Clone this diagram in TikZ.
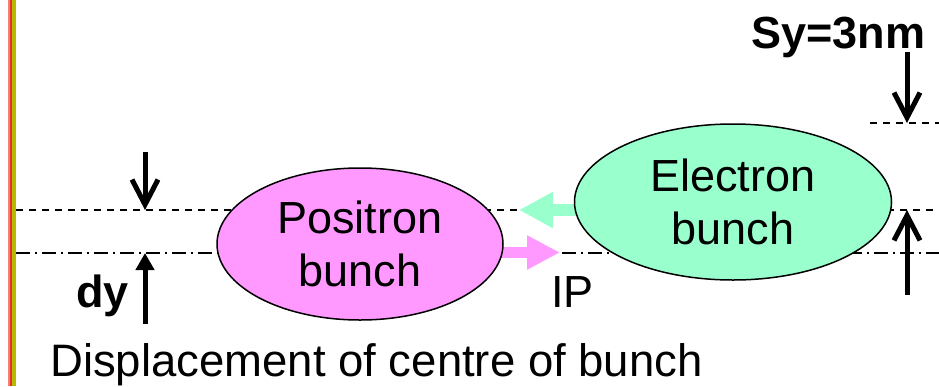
\documentclass[tikz,border=0pt]{standalone}
\usepackage{fontspec}
\setmainfont{Liberation Sans}
\usetikzlibrary{shapes.geometric,arrows.meta}
\definecolor{pinkfill}{HTML}{FF99FF}
\definecolor{greenfill}{HTML}{99FFCC}
\definecolor{barpink}{RGB}{240,128,128}
\definecolor{barred}{RGB}{230,50,30}
\definecolor{barolive}{RGB}{184,184,0}
\tikzset{
  bigfont/.style={font=\fontsize{45}{53}\selectfont},
  boldfont/.style={font=\fontsize{45}{53}\selectfont\bfseries},
  bunchnode/.style={ellipse, draw=black, line width=1.5pt, inner sep=0pt, align=center, bigfont},
  dashline/.style={line width=2pt, dash pattern=on 7pt off 6pt},
  dashdotline/.style={line width=2pt, dash pattern=on 14pt off 5pt on 2pt off 5pt},
  dimarrow/.style={line width=5pt, -{Straight Barb[length=25pt,width=26pt]}},
  dimarrowfilled/.style={line width=5pt, -{Triangle[length=17pt,width=18pt]}},
  fatarrow/.style={line width=12pt}
}
\begin{document}
\begin{tikzpicture}[x=1pt,y=-1pt]
\useasboundingbox (0,0) rectangle (939,386);
% left bar
\fill[barpink] (8,0) rectangle (9.7,386);
\fill[barred] (9.7,0) rectangle (11.7,386);
\fill[barolive] (11.7,0) rectangle (16,386);
% reference lines
\coordinate (dashL) at (16,210);
\coordinate (dashR) at (939,210);
\coordinate (ddL) at (16,253);
\coordinate (ddR) at (939,253);
\coordinate (topL) at (870,123);
\coordinate (topR) at (939,123);
\draw[dashline] (dashL) -- (dashR);
\draw[dashdotline] (ddL) -- (ddR);
\draw[dashline] (topL) -- (topR);
% fat arrows
\coordinate (gstart) at (595,210);
\coordinate (gtip) at (519,210);
\coordinate (pstart) at (480,252.5);
\coordinate (ptip) at (560,252.5);
\draw[fatarrow, greenfill, -{Triangle[length=34pt,width=34pt]}] (gstart) -- (gtip);
\draw[fatarrow, line width=11pt, pinkfill, -{Triangle[length=33pt,width=32pt]}] (pstart) -- (ptip);
% bunches
\node[bunchnode, fill=pinkfill, minimum width=286pt, minimum height=152pt] (P) at (360,244) {Positron\\bunch};
\node[bunchnode, fill=greenfill, minimum width=317pt, minimum height=156pt] (E) at (733,202) {Electron\\bunch};
% dimension arrows
\coordinate (ld1) at (145,152);
\coordinate (ld2) at (145,210);
\coordinate (lu1) at (145,324);
\coordinate (lu2) at (145,253);
\coordinate (rs1) at (907,52);
\coordinate (rs2) at (907,123);
\coordinate (ru1) at (907,295);
\coordinate (ru2) at (907,210);
\draw[dimarrow] (ld1) -- (ld2);
\draw[dimarrowfilled] (lu1) -- (lu2);
\draw[dimarrow] (rs1) -- (rs2);
\draw[dimarrow] (ru1) -- (ru2);
% texts
\node[boldfont, anchor=base west, inner sep=0pt] (sy) at (751,48) {Sy=3nm};
\node[boldfont, anchor=base west, inner sep=0pt] (dy) at (76,307) {dy};
\node[bigfont, anchor=base west, inner sep=0pt] (ip) at (551,307) {IP};
\node[font=\fontsize{45.5}{53}\selectfont, anchor=base west, inner sep=0pt] (disp) at (50,376) {Displacement of centre of bunch};
\end{tikzpicture}
\end{document}
